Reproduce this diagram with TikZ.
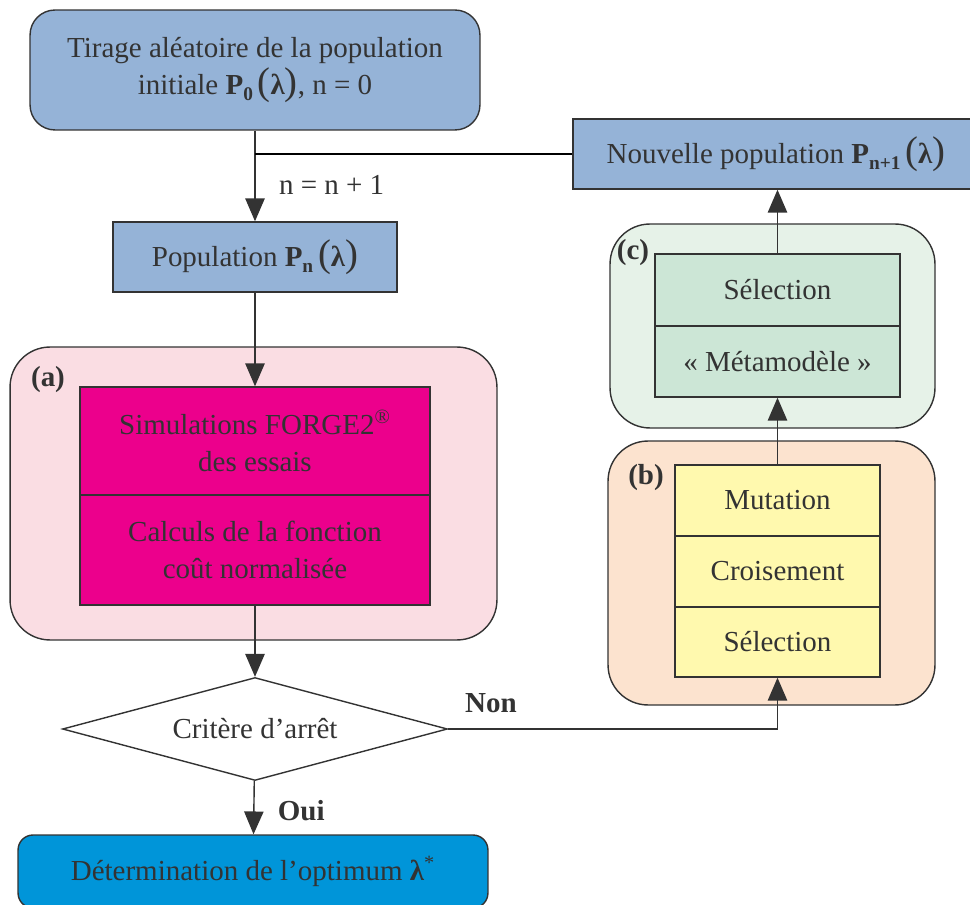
\documentclass[tikz,border=0pt]{standalone}
\usepackage{fontspec}
\setmainfont{Liberation Serif}
\usetikzlibrary{shapes.geometric,arrows.meta}
\definecolor{trait}{HTML}{333333}
\definecolor{texte}{HTML}{333333}
\definecolor{bleuclair}{HTML}{95B3D7}
\definecolor{bleuopt}{HTML}{0095D9}
\definecolor{magenta}{HTML}{EC008C}
\definecolor{jaune}{HTML}{FFF9AE}
\definecolor{vert}{HTML}{CCE6D6}
\definecolor{rosefond}{HTML}{FADDE3}
\definecolor{orangefond}{HTML}{FCE3CF}
\definecolor{vertfond}{HTML}{E6F2E8}
\newcommand{\Pop}[1]{\textbf{P}\raisebox{-0.45ex}{\fontsize{11}{11}\selectfont\textbf{#1}}\,{\fontsize{22}{22}\selectfont(}\textbf{λ}{\fontsize{22}{22}\selectfont)}}
\begin{document}
\begin{tikzpicture}[x=0.02cm, y=-0.02cm, line width=0.8pt,
    >={Stealth[length=13pt, width=11pt, inset=0pt]},
    every node/.style={text=texte, font=\fontsize{16.5}{21}\selectfont},
    boite/.style={draw=trait, fill=#1, align=center, inner sep=0pt},
    groupe/.style={draw=trait, fill=#1, rounded corners=0.8cm, inner sep=0pt},
    fleche/.style={->, draw=trait},
    lettre/.style={font=\fontsize{16.5}{21}\selectfont\bfseries}]
    \useasboundingbox (0,0) rectangle (970,905);

    % Fonds des groupes
    \node[groupe=rosefond, minimum width=9.74cm, minimum height=5.86cm] (ga) at (253.5,493.5) {};
    \node[groupe=vertfond, minimum width=6.5cm, minimum height=4.08cm] (gc) at (772.5,326) {};
    \node[groupe=orangefond, minimum width=6.54cm, minimum height=5.28cm] (gb) at (771.5,573) {};
    \node[lettre] (la) at (48,380) {(a)};
    \node[lettre] (lb) at (646,478) {(b)};
    \node[lettre] (lc) at (633,253) {(c)};

    % Colonne gauche
    \node[boite=bleuclair, rounded corners=0.5cm, minimum width=9cm, minimum height=2.4cm] (init) at (255,70)
        {Tirage aléatoire de la population\\ initiale \Pop{0}, n = 0};
    \node[boite=bleuclair, minimum width=5.68cm, minimum height=1.4cm] (pn) at (255,257) {Population \Pop{n}};
    \node[boite=magenta, minimum width=7cm, minimum height=2.16cm] (sim) at (255,441)
        {Simulations FORGE2\textsuperscript{®}\\ des essais};
    \node[boite=magenta, minimum width=7cm, minimum height=2.2cm] (calc) at (255,550)
        {Calculs de la fonction\\ coût normalisée};
    \node[diamond, draw=trait, fill=white, aspect=3.7, inner sep=0pt, minimum width=7.7cm, minimum height=2.06cm] (crit) at (255,729)
        {Critère d’arrêt};
    \node[boite=bleuopt, rounded corners=0.3cm, minimum width=9.4cm, minimum height=1.46cm] (opt) at (253,871.5)
        {\raisebox{0.06cm}{Détermination de l’optimum \textbf{λ}\textsuperscript{*}}};

    % Colonne droite
    \node[boite=bleuclair, minimum width=8.12cm, minimum height=1.4cm] (nouv) at (776,154) {Nouvelle population \Pop{n+1}};
    \node[boite=vert, minimum width=4.9cm, minimum height=1.44cm] (selc) at (777.5,290) {Sélection};
    \node[boite=vert, minimum width=4.9cm, minimum height=1.42cm] (meta) at (777.5,361.5) {« Métamodèle »};
    \node[boite=jaune, minimum width=4.1cm, minimum height=1.42cm] (mut) at (777.5,500.5) {Mutation};
    \node[boite=jaune, minimum width=4.1cm, minimum height=1.42cm] (crois) at (777.5,571.5) {Croisement};
    \node[boite=jaune, minimum width=4.1cm, minimum height=1.4cm] (selb) at (777.5,642) {Sélection};

    % Liaisons
    \draw[fleche] (init) -- (pn) node[pos=0.6, anchor=west, xshift=0.35cm] (incr) {n = n + 1};
    \draw (nouv.west) -- (init.south |- nouv.west);
    \draw[fleche] (pn) -- (sim);
    \draw[fleche] (calc) -- (crit);
    \draw[fleche] (crit) -- (opt) node[pos=0.55, anchor=west, xshift=0.35cm, lettre] (oui) {Oui};
    \draw[fleche] (crit.east) -| (selb.south) node[pos=0.065, above=0.2cm, lettre] (non) {Non};
    \draw[fleche] (mut) -- (meta);
    \draw[fleche] (selc) -- (selc.north |- nouv.south);
\end{tikzpicture}
\end{document}
